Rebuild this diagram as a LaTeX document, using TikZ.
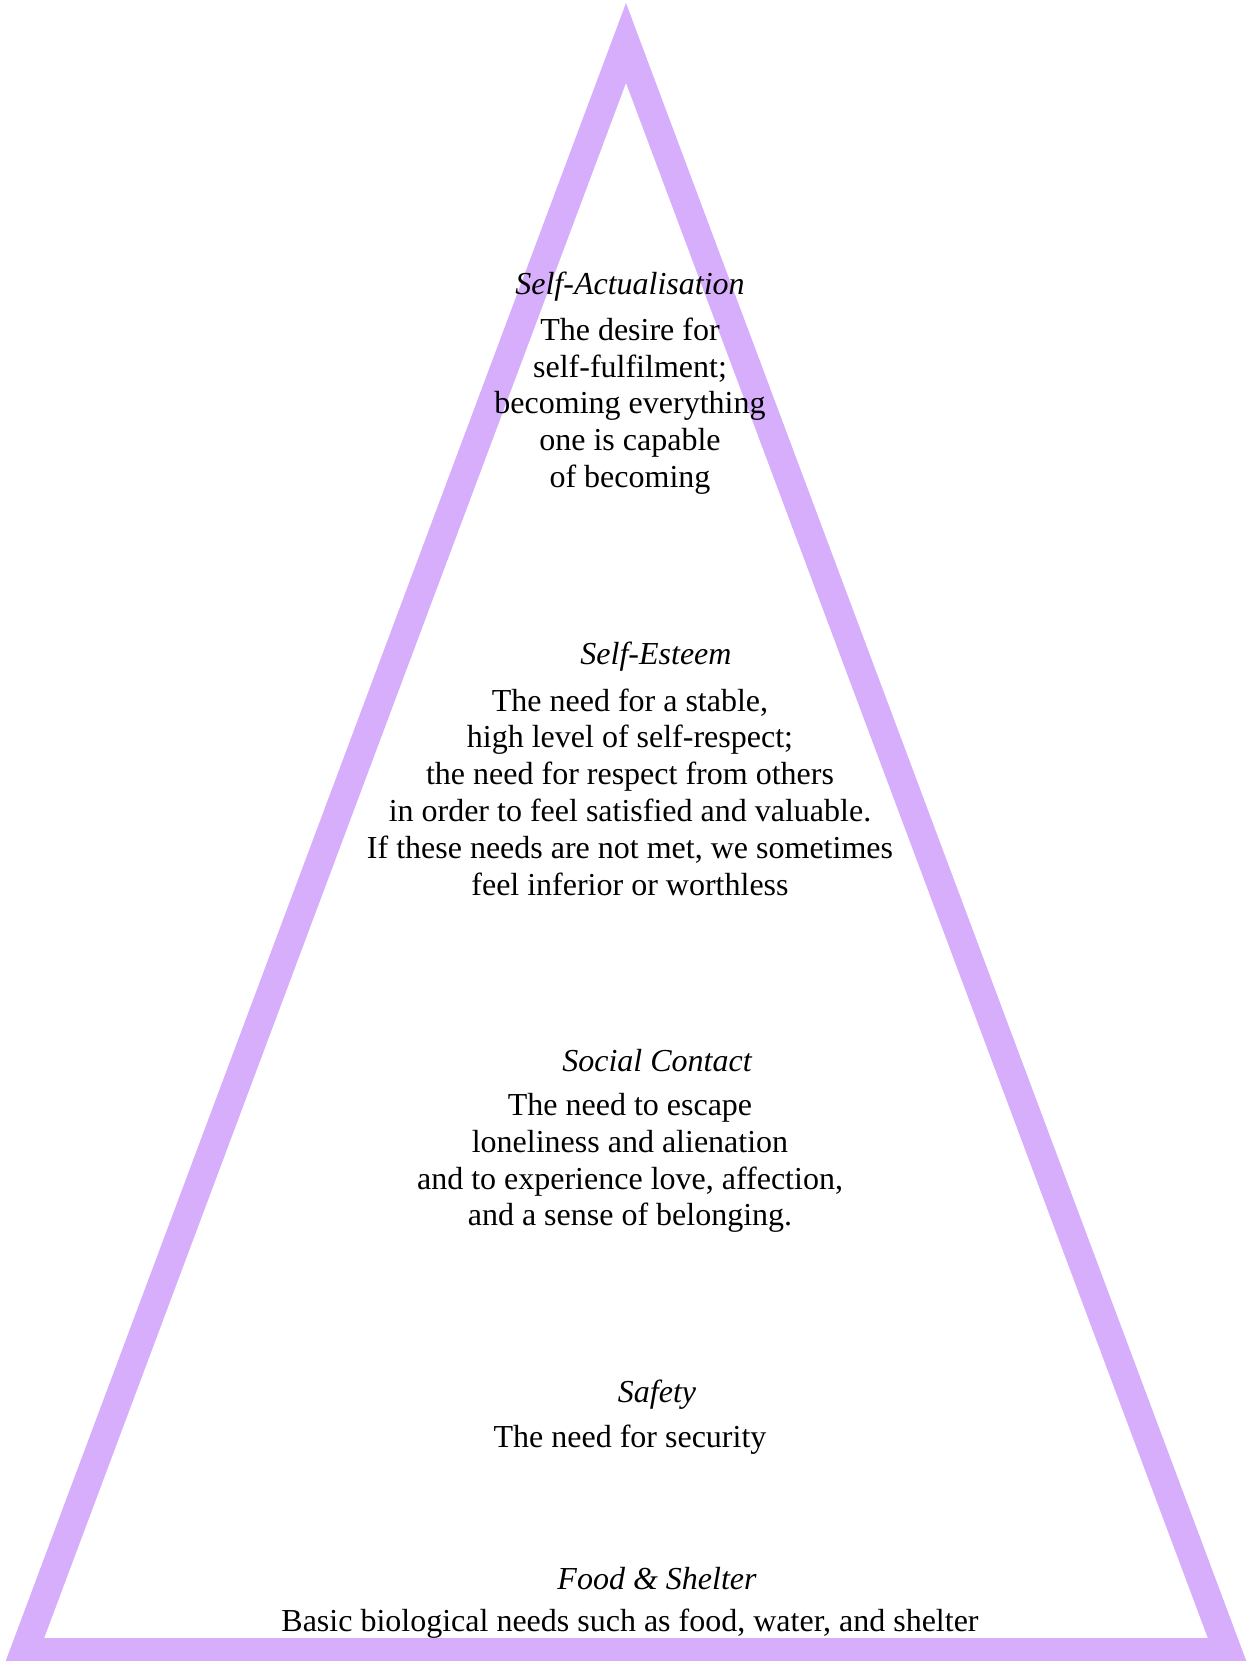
\documentclass[tikz,border=0pt]{standalone}
\usepackage{fontspec}
\setmainfont{Liberation Serif}
\usepackage{tikz}
\usetikzlibrary{positioning}
\definecolor{pyrlilac}{RGB}{214,174,252}
\tikzset{
  pyredge/.style={draw=pyrlilac, line width=14pt, line join=miter},
  pyrhead/.style={font=\fontsize{16}{18.4}\selectfont\itshape, inner sep=0pt},
  pyrtext/.style={font=\fontsize{16}{18.4}\selectfont, align=center, inner sep=0pt},
}
\begin{document}
\begin{tikzpicture}[x=0.5pt, y=-0.5pt]
  \useasboundingbox (0,0) rectangle (1249,1661);
  % outline of the pyramid
  \coordinate (top) at (626,43);
  \coordinate (left) at (24,1652);
  \coordinate (right) at (1228,1652);
  \draw[pyredge] (top) -- (left) -- (right) -- cycle;
  % top level
  \node[pyrhead] (acthead) at (630,287) {Self-Actualisation};
  \node[pyrtext] (acttext) at (630,406) {The desire for\\self-fulfilment;\\becoming everything\\one is capable\\of becoming};
  % esteem
  \node[pyrhead] (esthead) at (656,657) {Self-Esteem};
  \node[pyrtext] (esttext) at (630,792) {The need for a stable,\\high level of self-respect;\\the need for respect from others\\in order to feel satisfied and valuable.\\If these needs are not met, we sometimes\\feel inferior or worthless};
  % social
  \node[pyrhead] (sochead) at (657,1061) {Social Contact};
  \node[pyrtext] (soctext) at (630,1163) {The need to escape\\loneliness and alienation\\and to experience love, affection,\\and a sense of belonging.};
  % safety
  \node[pyrhead] (safhead) at (657,1395) {Safety};
  \node[pyrtext] (saftext) at (630,1440) {The need for security};
  % base level
  \node[pyrhead] (foodhead) at (657,1579) {Food \& Shelter};
  \node[pyrtext] (foodtext) at (630,1624) {Basic biological needs such as food, water, and shelter};
\end{tikzpicture}
\end{document}
